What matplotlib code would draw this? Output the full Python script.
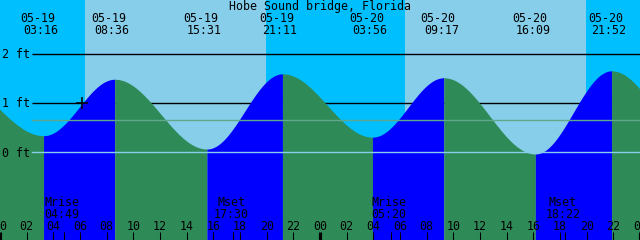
import numpy as np
import matplotlib
matplotlib.use('Agg')
import matplotlib.pyplot as plt

# Tide extremes, hours from 05-19 00:00 (first and last are estimates just outside the window)
tide_hours = [-3.5, 3.267, 8.6, 15.517, 21.183, 27.933, 33.283, 40.15, 45.867, 52.0]
tide_feet = [1.45, 0.34, 1.48, 0.07, 1.59, 0.31, 1.51, -0.03, 1.65, 0.28]
tide_dates = ['05-19', '05-19', '05-19', '05-19', '05-20', '05-20', '05-20', '05-20']
tide_times = ['03:16', '08:36', '15:31', '21:11', '03:56', '09:17', '16:09', '21:52']

# Sun (daylight spans) and moon events
day_start = [6.375, 30.375]
day_end = [19.95, 43.95]
moon_hours = [4.817, 17.5, 29.333, 42.367]
moon_names = ['Mrise', 'Mset', 'Mrise', 'Mset']
moon_times = ['04:49', '17:30', '05:20', '18:22']

hour_ticks = list(range(0, 49, 2))
hour_labels = ['%02d' % (h % 24) for h in hour_ticks]
ft_levels = [0, 1, 2]
mean_level = 0.65
now_hour, now_level = 6.13, 1.0

night_col = '#00bfff'
day_col = '#87ceeb'
flood_col = '#0000ff'
ebb_col = '#2e8b57'
font = dict(family='DejaVu Sans Mono', fontsize=8.4, color='black')

PX = 48 / 640  # hours per pixel
ymin, ymax = -1.768, 3.081

fig = plt.figure(figsize=(6.4, 2.4), dpi=100)
ax = fig.add_axes([0, 0, 1, 1])
ax.set_xlim(0, 48)
ax.set_ylim(ymin, ymax)
ax.axis('off')

def ypx(py):
    # pixel row -> axes fraction
    return 1 - py / 240

# sky
ax.axvspan(0, 48, color=night_col, zorder=0, lw=0)
for a, b in zip(day_start, day_end):
    ax.axvspan(a, b, color=day_col, zorder=0.5, lw=0)

# grid lines behind the water
for lv in [1, 2]:
    ax.plot([32 * PX, 48], [lv, lv], color='black', lw=1.0, zorder=1, solid_capstyle='butt')

# water: half-cosine between extremes, blue when rising, green when falling
for i in range(len(tide_hours) - 1):
    t0, t1 = tide_hours[i], tide_hours[i + 1]
    h0, h1 = tide_feet[i], tide_feet[i + 1]
    t = np.linspace(t0, t1, 200)
    h = h0 + (h1 - h0) * (1 - np.cos(np.pi * (t - t0) / (t1 - t0))) / 2
    col = flood_col if h1 > h0 else ebb_col
    ax.fill_between(t, h, ymin, color=col, lw=0, zorder=2, antialiased=False)

# mean line and datum line on top
ax.plot([32 * PX, 48], [mean_level, mean_level], color='#5fa88c', lw=1.0, zorder=3)
ax.plot([32 * PX, 48], [0, 0], color='#87ceeb', lw=1.0, zorder=3)

# current position marker
ax.plot(now_hour, now_level, marker='+', color='black', ms=8, mew=1.1, zorder=4)

for lv in ft_levels:
    py = 152.5 - lv * 49.5 + 4.3
    ax.text(1.7 * PX, ypx(py), '%d ft' % lv, ha='left', va='baseline',
            transform=ax.get_xaxis_transform(), zorder=5, **font)

# title
ax.text(24, ypx(10), 'Hobe Sound bridge, Florida', ha='center', va='baseline',
        transform=ax.get_xaxis_transform(), zorder=5, **font)

# high/low labels
for hr, d, tm in zip(tide_hours[1:-1], tide_dates, tide_times):
    ax.text(hr - 6 * PX, ypx(21.7), d, ha='center', va='baseline',
            transform=ax.get_xaxis_transform(), zorder=5, **font)
    ax.text(hr - 2.5 * PX, ypx(34.3), tm, ha='center', va='baseline',
            transform=ax.get_xaxis_transform(), zorder=5, **font)

# moon labels
for hr, nm, tm in zip(moon_hours, moon_names, moon_times):
    ax.text(hr - 2 * PX, ypx(205.5), nm, ha='center', va='baseline',
            transform=ax.get_xaxis_transform(), zorder=5, **font)
    ax.text(hr - 2 * PX, ypx(217.5), tm, ha='center', va='baseline',
            transform=ax.get_xaxis_transform(), zorder=5, **font)

# hour ticks and labels
trans = ax.get_xaxis_transform()
for hr, lab in zip(hour_ticks, hour_labels):
    ax.text(hr, ypx(230), lab, ha='center', va='baseline', transform=trans, zorder=5, **font)
    lw = 3 if hr % 24 == 0 else 1
    ax.vlines(hr, 0, 8 / 240, color='black', lw=lw * 0.75, transform=trans, zorder=5)
ax.vlines(moon_hours, 0, 8 / 240, color='black', lw=0.75, transform=trans, zorder=5)

fig.savefig('out.png', dpi=100)
